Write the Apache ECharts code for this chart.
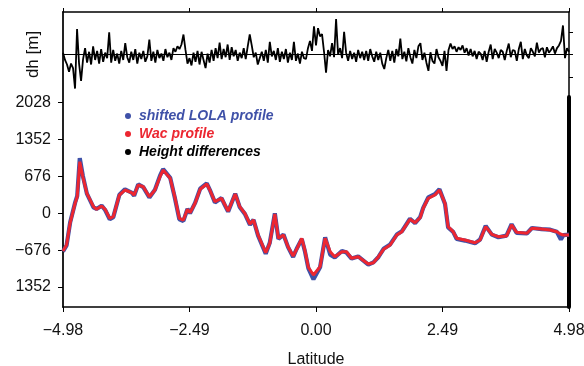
<!DOCTYPE html>
<html>
<head>
<meta charset="utf-8">
<script src="https://cdn.jsdelivr.net/npm/echarts@6/dist/echarts.min.js"></script>
<style>
  html, body { margin: 0; padding: 0; background: #fff; }
  #chart { width: 584px; height: 366px; }
</style>
</head>
<body>
<div id="chart"></div>
<script>
// lower panel: profile heights along latitude
const profileLat = [
  -4.98, -4.91, -4.84, -4.74, -4.70, -4.65, -4.59, -4.51, -4.38, -4.32,
  -4.22, -4.15, -4.06, -3.99, -3.87, -3.76, -3.63, -3.58, -3.50, -3.40,
  -3.28, -3.17, -3.07, -3.01, -2.87, -2.78, -2.69, -2.61, -2.53, -2.48,
  -2.38, -2.28, -2.15, -2.09, -1.99, -1.86, -1.79, -1.73, -1.59, -1.50,
  -1.40, -1.30, -1.23, -1.14, -0.99, -0.91, -0.81, -0.74, -0.64, -0.55,
  -0.45, -0.38, -0.28, -0.22, -0.15, -0.05, 0.08, 0.18, 0.28, 0.37,
  0.51, 0.60, 0.70, 0.83, 1.03, 1.13, 1.23, 1.33, 1.46, 1.59,
  1.69, 1.85, 1.95, 2.05, 2.11, 2.21, 2.34, 2.43, 2.54, 2.60,
  2.70, 2.77, 2.93, 3.13, 3.23, 3.34, 3.46, 3.59, 3.75, 3.85,
  3.95, 4.15, 4.25, 4.44, 4.61, 4.74, 4.82, 4.87, 4.98
];
const wacHeight = [
  -690, -581, -178, 189, 304, 945, 670, 366, 121, 73,
  134, 73, -92, -62, 335, 427, 377, 335, 518, 487,
  304, 427, 670, 793, 641, 304, -92, -123, 73, 11,
  183, 440, 537, 427, 213, 275, 152, 40, 354, 121,
  0, -196, -123, -398, -722, -550, -13, -458, -398, -612,
  -782, -660, -458, -672, -989, -1130, -978, -458, -703, -795,
  -703, -703, -824, -795, -929, -905, -795, -660, -581, -398,
  -337, -110, -172, -81, 92, 275, 335, 427, 183, -245,
  -337, -458, -489, -539, -489, -245, -385, -429, -416, -214,
  -348, -366, -275, -288, -306, -337, -385, -398, -398
];
const lolaHeight = [
  -700, -590, -170, 200, 320, 1010, 690, 360, 110, 80,
  140, 60, -110, -70, 340, 440, 380, 320, 530, 480,
  290, 430, 690, 810, 650, 290, -110, -140, 80, 0,
  190, 450, 550, 430, 200, 280, 140, 30, 360, 110,
  -10, -210, -120, -410, -740, -540, 0, -470, -390, -620,
  -800, -650, -470, -690, -1010, -1210, -990, -440, -760, -810,
  -690, -720, -830, -790, -940, -900, -800, -650, -570, -390,
  -330, -100, -180, -70, 100, 290, 350, 440, 170, -260,
  -340, -470, -500, -550, -480, -230, -390, -440, -410, -200,
  -360, -370, -270, -290, -300, -340, -480, -400, -390
];

// upper panel: height differences (m), sampled evenly from -4.98 to 4.98
const dhValues = [
  4, -12, -22, -38, -20, -30, -75, 56, -20, -58,
  -10, 14, -18, 6, -22, 18, -12, 8, -20, 12,
  -16, 4, -8, 49, -18, 10, -14, 2, -20, 8,
  -12, 25, -6, -18, 6, -12, 12, -20, 4, -10,
  8, -16, -4, 33, -14, 6, -18, 10, -8, 2,
  -14, 12, -6, 4, -12, 14, 6, 18, 12, 22,
  44, 10, -20, -8, -24, 4, -16, 8, -22, 6,
  -12, -30, 2, -18, 10, -14, 14, -8, 26, -10,
  12, -6, 22, -12, 16, -4, 10, -14, 4, -8,
  14, -10, 18, 44, 20, -6, 4, -22, -8, 6,
  -14, 10, -18, 28, -4, 8, -12, 14, -16, 6,
  -10, 12, -18, 4, -12, 28, -14, 2, -20, 6,
  -8, -10, 14, 30, 8, 62, 20, 58, 40, 45,
  6, -40, 10, -4, 25, -6, 78, 0, 14, -8,
  50, 4, -14, 8, -10, 4, -16, 10, -8, 6,
  -12, 8, -14, 12, -4, -16, 6, -12, 4, -20,
  -32, -8, 10, -14, 8, -18, 12, -4, 35, -10,
  6, -15, 14, -6, -20, 10, -8, 18, 25, -12,
  4, -18, -36, 5, -14, -20, 12, -6, -14, -25,
  8, -36, 10, 24, 12, 18, 6, 16, 10, 20,
  4, 14, -2, 12, -4, 8, -10, 6, 2, -12,
  8, -16, 6, 22, -10, 12, 4, -8, 10, 6,
  -12, 8, 24, -6, 10, 8, -14, 12, 28, -10,
  12, -2, -8, 14, 6, -4, 26, 4, 12, 14,
  -6, 16, 4, 10, 18, 2, 14, 20, 30, 64,
  -8, 14, 6
];

const latTicks = [-4.98, -2.49, 0, 2.49, 4.98];
const heightTicks = [-1352, -676, 0, 676, 1352, 2028];
const heightTickLabels = ["1352", "\u2212676", "0", "676", "1352", "2028"];
const dhTicks = [-50, 0, 50];

const FONT = "'Liberation Sans', Arial, sans-serif";
const BLUE = "#3f51a8";
const RED = "#ec2630";

const latMin = latTicks[0], latMax = latTicks[latTicks.length - 1];
const dhStep = (latMax - latMin) / (dhValues.length - 1);
const dhData = dhValues.map((v, i) => [latMin + i * dhStep, v]);
const wacData = profileLat.map((x, i) => [x, wacHeight[i]]);
const lolaData = profileLat.map((x, i) => [x, lolaHeight[i]]);

function fmtLat(v) {
  const s = Math.abs(v).toFixed(2);
  return v < 0 ? "\u2212" + s : s;
}

const chart = echarts.init(document.getElementById("chart"), null, { renderer: "canvas" });
chart.setOption({
  animation: false,
  backgroundColor: "#fff",
  textStyle: { fontFamily: FONT },
  grid: [
    { left: 63, right: 15, top: 12, height: 85, outerBoundsMode: "none" },
    { left: 63, right: 15, top: 97, bottom: 59, outerBoundsMode: "none" }
  ],
  legend: {
    orient: "vertical",
    left: 120,
    top: 104,
    icon: "circle",
    itemWidth: 12,
    itemHeight: 6,
    itemGap: 4,
    selectedMode: false,
    textStyle: { fontFamily: FONT, fontSize: 14, fontWeight: "bold", fontStyle: "italic" },
    data: [
      { name: "shifted LOLA profile", textStyle: { color: BLUE } },
      { name: "Wac profile", textStyle: { color: RED } },
      { name: "Height differences", textStyle: { color: "#000" } }
    ]
  },
  xAxis: [
    {
      type: "value",
      gridIndex: 0,
      position: "top",
      min: latMin,
      max: latMax,
      interval: 2.49,
      axisLine: { onZero: false, lineStyle: { color: "#000", width: 1.5 } },
      axisTick: { inside: false, length: 4, lineStyle: { color: "#000" } },
      axisLabel: { show: false },
      splitLine: { show: false }
    },
    {
      type: "value",
      gridIndex: 1,
      position: "bottom",
      min: latMin,
      max: latMax,
      interval: 2.49,
      name: "Latitude",
      nameLocation: "middle",
      nameGap: 45,
      nameTextStyle: { fontFamily: FONT, fontSize: 16, color: "#111" },
      axisLine: { onZero: false, lineStyle: { color: "#000", width: 1.5 } },
      axisTick: { inside: false, length: 5, lineStyle: { color: "#000" } },
      axisLabel: { margin: 16, fontSize: 16, color: "#111", fontFamily: FONT, formatter: fmtLat },
      splitLine: { show: false }
    }
  ],
  yAxis: [
    {
      type: "value",
      gridIndex: 0,
      position: "left",
      min: -93.6,
      max: 93.6,
      name: "dh [m]",
      nameLocation: "middle",
      nameGap: 21,
      nameTextStyle: { fontFamily: FONT, fontSize: 17, color: "#111" },
      axisLine: { show: true, onZero: false, lineStyle: { color: "#222", width: 2 } },
      axisTick: { show: false },
      axisLabel: { show: false },
      splitLine: { show: false }
    },
    {
      type: "value",
      gridIndex: 0,
      position: "right",
      min: -93.6,
      max: 93.6,
      axisLine: { show: true, onZero: false, lineStyle: { color: "#000", width: 1.5 } },
      axisTick: { show: true, inside: false, length: 4, customValues: dhTicks, lineStyle: { color: "#000" } },
      axisLabel: { show: false },
      splitLine: { show: false }
    },
    {
      type: "value",
      gridIndex: 1,
      position: "left",
      min: -1717,
      max: 2131,
      axisLine: { show: true, onZero: false, lineStyle: { color: "#222", width: 2 } },
      axisTick: { show: true, inside: false, length: 5, customValues: heightTicks, lineStyle: { color: "#000" } },
      axisLabel: {
        margin: 12,
        fontSize: 16,
        color: "#111",
        fontFamily: FONT,
        customValues: heightTicks,
        formatter: (v) => heightTickLabels[heightTicks.indexOf(v)]
      },
      splitLine: { show: false }
    },
    {
      type: "value",
      gridIndex: 1,
      position: "right",
      min: -1717,
      max: 2131,
      axisLine: { show: true, onZero: false, lineStyle: { color: "#000", width: 4 } },
      axisTick: { show: false },
      axisLabel: { show: false },
      splitLine: { show: false }
    }
  ],
  series: [
    {
      name: "shifted LOLA profile",
      type: "line",
      xAxisIndex: 1,
      yAxisIndex: 2,
      data: lolaData,
      showSymbol: false,
      color: BLUE,
      lineStyle: { color: BLUE, width: 4.2 },
      z: 2
    },
    {
      name: "Wac profile",
      type: "line",
      xAxisIndex: 1,
      yAxisIndex: 2,
      data: wacData,
      showSymbol: false,
      color: RED,
      lineStyle: { color: RED, width: 3 },
      z: 3
    },
    {
      name: "Height differences",
      type: "line",
      xAxisIndex: 0,
      yAxisIndex: 0,
      data: dhData,
      showSymbol: false,
      color: "#000",
      lineStyle: { color: "#000", width: 1.8 },
      markLine: {
        silent: true,
        symbol: "none",
        label: { show: false },
        lineStyle: { color: "#000", width: 1, type: "solid" },
        data: [{ yAxis: 0 }]
      },
      z: 3
    }
  ]
});
</script>
</body>
</html>
